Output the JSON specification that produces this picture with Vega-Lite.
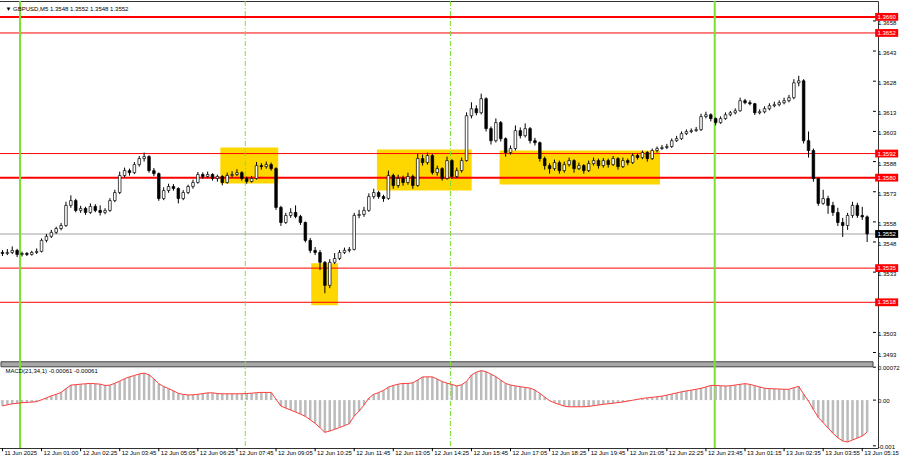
{
"$schema": "https://vega.github.io/schema/vega-lite/v6.json",
"width": 900,
"height": 460,
"autosize": {"type": "fit", "contains": "padding"},
"padding": {"left": -5, "top": 0, "right": 0, "bottom": 4},
"background": "#ffffff",
"config": {
  "font": "Liberation Sans",
  "view": {"stroke": "#333333", "strokeWidth": 1}
},
"resolve": {"scale": {"y": "independent"}},
"datasets": {
  "zones": [{"i0":89.2,"i1":112.9,"p0":1.3595,"p1":1.35771},{"i0":126.4,"i1":137.4,"p0":1.35374,"p1":1.35165},{"i0":153.3,"i1":192.1,"p0":1.3594,"p1":1.35736},{"i0":203.5,"i1":269.2,"p0":1.35935,"p1":1.35766}],
  "levels": [{"p":1.366,"kind":"strong"},{"p":1.3652,"kind":"weak"},{"p":1.3592,"kind":"weak"},{"p":1.358,"kind":"strong"},{"p":1.3535,"kind":"weak"},{"p":1.3518,"kind":"weak"}],
  "last": [{"p":1.3552}],
  "pticks": [{"p":1.3658},{"p":1.3643},{"p":1.3628},{"p":1.3613},{"p":1.3603},{"p":1.3588},{"p":1.3573},{"p":1.3558},{"p":1.3548},{"p":1.3533},{"p":1.3503},{"p":1.3493}],
  "mticks": [{"m":0.00072,"t":"0.00072"},{"m":0,"t":"0.00"},{"m":-0.001,"t":"-0.001"}],
  "xticks": [{"i":0,"t":"11 Jun 2025"},{"i":16,"t":"12 Jun 01:00"},{"i":32,"t":"12 Jun 02:25"},{"i":48,"t":"12 Jun 03:45"},{"i":64,"t":"12 Jun 05:05"},{"i":80,"t":"12 Jun 06:25"},{"i":96,"t":"12 Jun 07:45"},{"i":112,"t":"12 Jun 09:05"},{"i":128,"t":"12 Jun 10:25"},{"i":144,"t":"12 Jun 11:45"},{"i":160,"t":"12 Jun 13:05"},{"i":176,"t":"12 Jun 14:25"},{"i":192,"t":"12 Jun 15:45"},{"i":208,"t":"12 Jun 17:05"},{"i":224,"t":"12 Jun 18:25"},{"i":240,"t":"12 Jun 19:45"},{"i":256,"t":"12 Jun 21:05"},{"i":272,"t":"12 Jun 22:25"},{"i":288,"t":"12 Jun 23:45"},{"i":304,"t":"13 Jun 01:15"},{"i":320,"t":"13 Jun 02:35"},{"i":336,"t":"13 Jun 03:55"},{"i":352,"t":"13 Jun 05:15"}],
  "vlines": [{"i":7.2,"kind":"strong"},{"i":99.4,"kind":"weak"},{"i":183.4,"kind":"weak"},{"i":291.6,"kind":"strong"}],
  "bars": [
{"i":0,"o":1.35428,"h":1.3544,"l":1.3541,"c":1.35423,"m":-0.000127},
{"i":2,"o":1.35423,"h":1.35445,"l":1.35415,"c":1.35428,"m":-0.000103},
{"i":4,"o":1.35428,"h":1.35458,"l":1.3542,"c":1.35438,"m":-0.000079},
{"i":6,"o":1.35438,"h":1.35446,"l":1.35405,"c":1.35418,"m":-0.000072},
{"i":8,"o":1.35418,"h":1.35432,"l":1.35408,"c":1.35423,"m":-0.000057},
{"i":10,"o":1.35423,"h":1.3543,"l":1.3541,"c":1.35418,"m":-0.00005},
{"i":12,"o":1.35418,"h":1.35436,"l":1.35412,"c":1.35428,"m":-0.000044},
{"i":14,"o":1.35428,"h":1.35448,"l":1.3542,"c":1.35433,"m":-0.000033},
{"i":16,"o":1.35433,"h":1.35498,"l":1.35428,"c":1.35488,"m":0.000007},
{"i":18,"o":1.35488,"h":1.3552,"l":1.35478,"c":1.35508,"m":0.00005},
{"i":20,"o":1.35508,"h":1.3554,"l":1.355,"c":1.35528,"m":0.000092},
{"i":22,"o":1.35528,"h":1.35556,"l":1.3552,"c":1.35547,"m":0.000127},
{"i":24,"o":1.35547,"h":1.35575,"l":1.35538,"c":1.35562,"m":0.000166},
{"i":26,"o":1.35562,"h":1.3568,"l":1.35555,"c":1.35662,"m":0.000249},
{"i":28,"o":1.35662,"h":1.35712,"l":1.3565,"c":1.35686,"m":0.000328},
{"i":30,"o":1.35686,"h":1.35695,"l":1.35628,"c":1.35637,"m":0.000338},
{"i":32,"o":1.35637,"h":1.3566,"l":1.35625,"c":1.35647,"m":0.000349},
{"i":34,"o":1.35647,"h":1.35655,"l":1.35615,"c":1.35627,"m":0.000358},
{"i":36,"o":1.35627,"h":1.35672,"l":1.3562,"c":1.35657,"m":0.000365},
{"i":38,"o":1.35657,"h":1.35668,"l":1.35628,"c":1.35637,"m":0.000358},
{"i":40,"o":1.35637,"h":1.35662,"l":1.35612,"c":1.35627,"m":0.000349},
{"i":42,"o":1.35627,"h":1.35648,"l":1.35618,"c":1.35637,"m":0.000321},
{"i":44,"o":1.35637,"h":1.35698,"l":1.3563,"c":1.35686,"m":0.000328},
{"i":46,"o":1.35686,"h":1.3574,"l":1.35678,"c":1.35726,"m":0.000367},
{"i":48,"o":1.35726,"h":1.3583,"l":1.35718,"c":1.35811,"m":0.000415},
{"i":50,"o":1.35811,"h":1.3585,"l":1.358,"c":1.35835,"m":0.000469},
{"i":52,"o":1.35835,"h":1.35845,"l":1.3581,"c":1.35825,"m":0.000507},
{"i":54,"o":1.35825,"h":1.35878,"l":1.35818,"c":1.35865,"m":0.000539},
{"i":56,"o":1.35865,"h":1.35908,"l":1.35855,"c":1.35895,"m":0.000572},
{"i":58,"o":1.35895,"h":1.35925,"l":1.3588,"c":1.35905,"m":0.00059},
{"i":60,"o":1.35905,"h":1.35912,"l":1.35825,"c":1.35835,"m":0.000555},
{"i":62,"o":1.35835,"h":1.35848,"l":1.35808,"c":1.3582,"m":0.000465},
{"i":64,"o":1.3582,"h":1.35826,"l":1.35685,"c":1.35696,"m":0.000358},
{"i":66,"o":1.35696,"h":1.35752,"l":1.35688,"c":1.35736,"m":0.000297},
{"i":68,"o":1.35736,"h":1.3577,"l":1.35725,"c":1.35756,"m":0.000253},
{"i":70,"o":1.35756,"h":1.35768,"l":1.35735,"c":1.35746,"m":0.000203},
{"i":72,"o":1.35746,"h":1.35752,"l":1.35672,"c":1.35696,"m":0.000148},
{"i":74,"o":1.35696,"h":1.35738,"l":1.35688,"c":1.35726,"m":0.000124},
{"i":76,"o":1.35726,"h":1.35765,"l":1.35718,"c":1.35756,"m":0.000114},
{"i":78,"o":1.35756,"h":1.3579,"l":1.35745,"c":1.35776,"m":0.000116},
{"i":80,"o":1.35776,"h":1.35828,"l":1.3577,"c":1.35816,"m":0.000127},
{"i":82,"o":1.35816,"h":1.35826,"l":1.35795,"c":1.35806,"m":0.000142},
{"i":84,"o":1.35806,"h":1.3583,"l":1.35798,"c":1.35816,"m":0.000159},
{"i":86,"o":1.35816,"h":1.35822,"l":1.35785,"c":1.35796,"m":0.000159},
{"i":88,"o":1.35796,"h":1.35815,"l":1.3578,"c":1.35806,"m":0.000144},
{"i":90,"o":1.35806,"h":1.35812,"l":1.35762,"c":1.35776,"m":0.000138},
{"i":92,"o":1.35776,"h":1.35825,"l":1.3577,"c":1.35811,"m":0.000138},
{"i":94,"o":1.35811,"h":1.35832,"l":1.358,"c":1.35816,"m":0.000138},
{"i":96,"o":1.35816,"h":1.35842,"l":1.35808,"c":1.35825,"m":0.000138},
{"i":98,"o":1.35825,"h":1.35832,"l":1.35785,"c":1.35796,"m":0.00014},
{"i":100,"o":1.35796,"h":1.35805,"l":1.3577,"c":1.35781,"m":0.000144},
{"i":102,"o":1.35781,"h":1.35808,"l":1.35775,"c":1.35796,"m":0.000151},
{"i":104,"o":1.35796,"h":1.35878,"l":1.3579,"c":1.3586,"m":0.000162},
{"i":106,"o":1.3586,"h":1.35872,"l":1.3584,"c":1.35855,"m":0.000168},
{"i":108,"o":1.35855,"h":1.3588,"l":1.35845,"c":1.35865,"m":0.000168},
{"i":110,"o":1.35865,"h":1.35875,"l":1.35835,"c":1.35845,"m":0.000168},
{"i":112,"o":1.35845,"h":1.35852,"l":1.3564,"c":1.35652,"m":0.000022},
{"i":114,"o":1.35652,"h":1.3566,"l":1.3556,"c":1.35577,"m":-0.000131},
{"i":116,"o":1.35577,"h":1.35625,"l":1.3557,"c":1.35612,"m":-0.000175},
{"i":118,"o":1.35612,"h":1.35648,"l":1.356,"c":1.35627,"m":-0.000218},
{"i":120,"o":1.35627,"h":1.35662,"l":1.35598,"c":1.35607,"m":-0.000262},
{"i":122,"o":1.35607,"h":1.35615,"l":1.35565,"c":1.35577,"m":-0.000306},
{"i":124,"o":1.35577,"h":1.35582,"l":1.35478,"c":1.35488,"m":-0.000356},
{"i":126,"o":1.35488,"h":1.355,"l":1.35425,"c":1.35438,"m":-0.00043},
{"i":128,"o":1.35438,"h":1.35455,"l":1.35415,"c":1.35428,"m":-0.000509},
{"i":130,"o":1.35428,"h":1.3544,"l":1.3534,"c":1.35379,"m":-0.000603},
{"i":132,"o":1.35379,"h":1.35385,"l":1.35225,"c":1.35264,"m":-0.000705},
{"i":134,"o":1.35264,"h":1.35395,"l":1.3525,"c":1.35379,"m":-0.000677},
{"i":136,"o":1.35379,"h":1.35425,"l":1.3537,"c":1.35398,"m":-0.00064},
{"i":138,"o":1.35398,"h":1.3544,"l":1.3539,"c":1.35428,"m":-0.0006},
{"i":140,"o":1.35428,"h":1.35452,"l":1.3542,"c":1.35438,"m":-0.000559},
{"i":142,"o":1.35438,"h":1.35455,"l":1.35428,"c":1.35443,"m":-0.000515},
{"i":144,"o":1.35443,"h":1.35625,"l":1.35438,"c":1.35612,"m":-0.000349},
{"i":146,"o":1.35612,"h":1.3564,"l":1.35598,"c":1.35617,"m":-0.00024},
{"i":148,"o":1.35617,"h":1.35655,"l":1.35605,"c":1.35637,"m":-0.000109},
{"i":150,"o":1.35637,"h":1.35722,"l":1.3563,"c":1.35706,"m":0.000044},
{"i":152,"o":1.35706,"h":1.35745,"l":1.35695,"c":1.35726,"m":0.000127},
{"i":154,"o":1.35726,"h":1.35735,"l":1.35695,"c":1.35706,"m":0.000164},
{"i":156,"o":1.35706,"h":1.35715,"l":1.3568,"c":1.35696,"m":0.000214},
{"i":158,"o":1.35696,"h":1.35835,"l":1.3569,"c":1.35811,"m":0.000284},
{"i":160,"o":1.35811,"h":1.3582,"l":1.35745,"c":1.35761,"m":0.000321},
{"i":162,"o":1.35761,"h":1.35815,"l":1.3575,"c":1.35796,"m":0.000349},
{"i":164,"o":1.35796,"h":1.3581,"l":1.3576,"c":1.35776,"m":0.000365},
{"i":166,"o":1.35776,"h":1.35825,"l":1.35765,"c":1.35806,"m":0.000365},
{"i":168,"o":1.35806,"h":1.35815,"l":1.35745,"c":1.35761,"m":0.000378},
{"i":170,"o":1.35761,"h":1.3592,"l":1.35755,"c":1.35895,"m":0.000441},
{"i":172,"o":1.35895,"h":1.35915,"l":1.3586,"c":1.35875,"m":0.000507},
{"i":174,"o":1.35875,"h":1.35925,"l":1.35865,"c":1.3591,"m":0.000509},
{"i":176,"o":1.3591,"h":1.35918,"l":1.35815,"c":1.35825,"m":0.000509},
{"i":178,"o":1.35825,"h":1.3586,"l":1.3581,"c":1.35845,"m":0.000459},
{"i":180,"o":1.35845,"h":1.35852,"l":1.35785,"c":1.35796,"m":0.000406},
{"i":182,"o":1.35796,"h":1.35905,"l":1.3579,"c":1.35885,"m":0.000371},
{"i":184,"o":1.35885,"h":1.35892,"l":1.35795,"c":1.35806,"m":0.000343},
{"i":186,"o":1.35806,"h":1.3585,"l":1.35798,"c":1.35835,"m":0.00031},
{"i":188,"o":1.35835,"h":1.359,"l":1.35825,"c":1.35885,"m":0.000336},
{"i":190,"o":1.35885,"h":1.36125,"l":1.3588,"c":1.36108,"m":0.000408},
{"i":192,"o":1.36108,"h":1.36175,"l":1.36095,"c":1.36143,"m":0.00055},
{"i":194,"o":1.36143,"h":1.3616,"l":1.3611,"c":1.36123,"m":0.000611},
{"i":196,"o":1.36123,"h":1.36218,"l":1.36115,"c":1.36193,"m":0.000646},
{"i":198,"o":1.36193,"h":1.362,"l":1.3603,"c":1.36044,"m":0.00062},
{"i":200,"o":1.36044,"h":1.36055,"l":1.35965,"c":1.35984,"m":0.00057},
{"i":202,"o":1.35984,"h":1.36095,"l":1.35975,"c":1.36074,"m":0.000511},
{"i":204,"o":1.36074,"h":1.36082,"l":1.3598,"c":1.35994,"m":0.000437},
{"i":206,"o":1.35994,"h":1.36,"l":1.35905,"c":1.35925,"m":0.000365},
{"i":208,"o":1.35925,"h":1.3596,"l":1.35915,"c":1.35945,"m":0.00033},
{"i":210,"o":1.35945,"h":1.3606,"l":1.35935,"c":1.36034,"m":0.00031},
{"i":212,"o":1.36034,"h":1.3605,"l":1.35995,"c":1.36009,"m":0.000293},
{"i":214,"o":1.36009,"h":1.3607,"l":1.36,"c":1.36044,"m":0.000277},
{"i":216,"o":1.36044,"h":1.36052,"l":1.3597,"c":1.35984,"m":0.000262},
{"i":218,"o":1.35984,"h":1.35998,"l":1.3596,"c":1.35974,"m":0.000221},
{"i":220,"o":1.35974,"h":1.3598,"l":1.3588,"c":1.35895,"m":0.000146},
{"i":222,"o":1.35895,"h":1.35905,"l":1.3584,"c":1.3586,"m":0.000068},
{"i":224,"o":1.3586,"h":1.35872,"l":1.3582,"c":1.35845,"m":-0.000013},
{"i":226,"o":1.35845,"h":1.3589,"l":1.35835,"c":1.35875,"m":-0.000061},
{"i":228,"o":1.35875,"h":1.35885,"l":1.3582,"c":1.35835,"m":-0.000096},
{"i":230,"o":1.35835,"h":1.3588,"l":1.35825,"c":1.35865,"m":-0.000131},
{"i":232,"o":1.35865,"h":1.359,"l":1.35855,"c":1.35885,"m":-0.000146},
{"i":234,"o":1.35885,"h":1.35892,"l":1.35825,"c":1.35845,"m":-0.000146},
{"i":236,"o":1.35845,"h":1.35875,"l":1.35838,"c":1.3586,"m":-0.000146},
{"i":238,"o":1.3586,"h":1.35868,"l":1.3582,"c":1.35835,"m":-0.000146},
{"i":240,"o":1.35835,"h":1.35885,"l":1.35828,"c":1.3587,"m":-0.000138},
{"i":242,"o":1.3587,"h":1.359,"l":1.3586,"c":1.35885,"m":-0.000122},
{"i":244,"o":1.35885,"h":1.35895,"l":1.35845,"c":1.3586,"m":-0.000107},
{"i":246,"o":1.3586,"h":1.35898,"l":1.3585,"c":1.35885,"m":-0.000092},
{"i":248,"o":1.35885,"h":1.35895,"l":1.3585,"c":1.35865,"m":-0.000079},
{"i":250,"o":1.35865,"h":1.35908,"l":1.35858,"c":1.35895,"m":-0.000068},
{"i":252,"o":1.35895,"h":1.35902,"l":1.3584,"c":1.35855,"m":-0.000055},
{"i":254,"o":1.35855,"h":1.359,"l":1.35848,"c":1.35885,"m":-0.000041},
{"i":256,"o":1.35885,"h":1.35895,"l":1.35862,"c":1.35875,"m":-0.000022},
{"i":258,"o":1.35875,"h":1.35922,"l":1.35868,"c":1.3591,"m":-0.000002},
{"i":260,"o":1.3591,"h":1.3592,"l":1.3589,"c":1.359,"m":0.000017},
{"i":262,"o":1.359,"h":1.35935,"l":1.35892,"c":1.35925,"m":0.000037},
{"i":264,"o":1.35925,"h":1.35932,"l":1.3588,"c":1.35895,"m":0.00005},
{"i":266,"o":1.35895,"h":1.35945,"l":1.35888,"c":1.35935,"m":0.000061},
{"i":268,"o":1.35935,"h":1.35955,"l":1.35925,"c":1.35945,"m":0.000074},
{"i":270,"o":1.35945,"h":1.35962,"l":1.35938,"c":1.3595,"m":0.000087},
{"i":272,"o":1.3595,"h":1.35968,"l":1.35942,"c":1.35955,"m":0.000109},
{"i":274,"o":1.35955,"h":1.35995,"l":1.35948,"c":1.35984,"m":0.000133},
{"i":276,"o":1.35984,"h":1.36008,"l":1.35978,"c":1.35994,"m":0.000157},
{"i":278,"o":1.35994,"h":1.3603,"l":1.35988,"c":1.36019,"m":0.000181},
{"i":280,"o":1.36019,"h":1.3604,"l":1.36012,"c":1.36029,"m":0.000201},
{"i":282,"o":1.36029,"h":1.36045,"l":1.36022,"c":1.36034,"m":0.000218},
{"i":284,"o":1.36034,"h":1.36052,"l":1.36028,"c":1.36039,"m":0.000238},
{"i":286,"o":1.36039,"h":1.36118,"l":1.36032,"c":1.36104,"m":0.000258},
{"i":288,"o":1.36104,"h":1.36128,"l":1.36095,"c":1.36113,"m":0.000288},
{"i":290,"o":1.36113,"h":1.3612,"l":1.3608,"c":1.36094,"m":0.000321},
{"i":292,"o":1.36094,"h":1.361,"l":1.3606,"c":1.36074,"m":0.000321},
{"i":294,"o":1.36074,"h":1.36105,"l":1.36068,"c":1.36094,"m":0.000314},
{"i":296,"o":1.36094,"h":1.36125,"l":1.36088,"c":1.36113,"m":0.000308},
{"i":298,"o":1.36113,"h":1.36132,"l":1.36105,"c":1.36123,"m":0.000314},
{"i":300,"o":1.36123,"h":1.36145,"l":1.36115,"c":1.36133,"m":0.00033},
{"i":302,"o":1.36133,"h":1.36198,"l":1.36128,"c":1.36183,"m":0.000345},
{"i":304,"o":1.36183,"h":1.36192,"l":1.36165,"c":1.36173,"m":0.00036},
{"i":306,"o":1.36173,"h":1.36185,"l":1.3616,"c":1.36168,"m":0.000345},
{"i":308,"o":1.36168,"h":1.36172,"l":1.36112,"c":1.36123,"m":0.000317},
{"i":310,"o":1.36123,"h":1.3614,"l":1.36115,"c":1.36128,"m":0.000288},
{"i":312,"o":1.36128,"h":1.36155,"l":1.3612,"c":1.36143,"m":0.00026},
{"i":314,"o":1.36143,"h":1.3617,"l":1.36135,"c":1.36158,"m":0.000251},
{"i":316,"o":1.36158,"h":1.36178,"l":1.3615,"c":1.36163,"m":0.000247},
{"i":318,"o":1.36163,"h":1.36185,"l":1.36155,"c":1.36173,"m":0.000242},
{"i":320,"o":1.36173,"h":1.36198,"l":1.36165,"c":1.36183,"m":0.000238},
{"i":322,"o":1.36183,"h":1.36212,"l":1.36175,"c":1.36198,"m":0.000236},
{"i":324,"o":1.36198,"h":1.3629,"l":1.3619,"c":1.36272,"m":0.000271},
{"i":326,"o":1.36272,"h":1.36307,"l":1.36255,"c":1.36282,"m":0.000301},
{"i":328,"o":1.36282,"h":1.3629,"l":1.3597,"c":1.35984,"m":0.000131},
{"i":330,"o":1.35984,"h":1.3603,"l":1.359,"c":1.35935,"m":-0.000022},
{"i":332,"o":1.35935,"h":1.35945,"l":1.3578,"c":1.35796,"m":-0.000207},
{"i":334,"o":1.35796,"h":1.358,"l":1.3566,"c":1.35672,"m":-0.000378},
{"i":336,"o":1.35672,"h":1.3574,"l":1.35665,"c":1.35696,"m":-0.000493},
{"i":338,"o":1.35696,"h":1.3571,"l":1.3562,"c":1.35662,"m":-0.000609},
{"i":340,"o":1.35662,"h":1.3568,"l":1.3561,"c":1.35627,"m":-0.000725},
{"i":342,"o":1.35627,"h":1.3565,"l":1.3556,"c":1.35577,"m":-0.000823},
{"i":344,"o":1.35577,"h":1.356,"l":1.35505,"c":1.35562,"m":-0.000895},
{"i":346,"o":1.35562,"h":1.35625,"l":1.3554,"c":1.35612,"m":-0.000917},
{"i":348,"o":1.35612,"h":1.3568,"l":1.356,"c":1.35662,"m":-0.000873},
{"i":350,"o":1.35662,"h":1.35675,"l":1.356,"c":1.35612,"m":-0.00083},
{"i":352,"o":1.35612,"h":1.35655,"l":1.3559,"c":1.35605,"m":-0.000786},
{"i":354,"o":1.35605,"h":1.35612,"l":1.3548,"c":1.3552,"m":-0.0007}
  ]
},
"layer": [
  {"data": {"name": "zones"}, "mark": {"type": "rect", "color": "#ffd700"},
   "encoding": {
     "x": {"field": "i0", "type": "quantitative", "scale": {"domain": [-0.6, 356.4], "nice": false, "zero": false}, "axis": null},
     "x2": {"field": "i1"},
     "y": {"field": "p0", "type": "quantitative", "scale": {"domain": [1.34455, 1.36679], "nice": false, "zero": false}, "axis": null},
     "y2": {"field": "p1"}
   }},
  {"data": {"values": [{}]}, "mark": {"type": "rect", "color": "#a8a8a8", "stroke": "#444444", "strokeWidth": 1},
   "encoding": {
     "x": {"datum": -0.6, "type": "quantitative", "scale": {"domain": [-0.6, 356.4], "nice": false, "zero": false}, "axis": null},
     "x2": {"datum": 356.4},
     "y": {"datum": 1.34884, "type": "quantitative", "scale": {"domain": [1.34455, 1.36679], "nice": false, "zero": false}, "axis": null},
     "y2": {"datum": 1.34859}
   }},
  {"data": {"name": "last"}, "mark": {"type": "rule", "color": "#d0d0d0", "strokeWidth": 2},
   "encoding": {"y": {"field": "p", "type": "quantitative", "scale": {"domain": [1.34455, 1.36679], "nice": false, "zero": false}, "axis": null}}},
  {"data": {"name": "levels"}, "mark": {"type": "rule", "color": "#ff0000"},
   "encoding": {
     "y": {"field": "p", "type": "quantitative", "scale": {"domain": [1.34455, 1.36679], "nice": false, "zero": false}, "axis": null},
     "strokeWidth": {"field": "kind", "type": "ordinal", "scale": {"domain": ["strong", "weak"], "range": [2, 1]}, "legend": null}
   }},
  {"data": {"name": "vlines"}, "mark": {"type": "rule", "color": "#7ce030"},
   "encoding": {
     "x": {"field": "i", "type": "quantitative", "scale": {"domain": [-0.6, 356.4], "nice": false, "zero": false}, "axis": null},
     "strokeWidth": {"field": "kind", "type": "ordinal", "scale": {"domain": ["strong", "weak"], "range": [2, 1]}, "legend": null},
     "strokeDash": {"field": "kind", "type": "nominal", "scale": {"domain": ["strong", "weak"], "range": [[1, 0], [5, 2, 1, 2]]}, "legend": null}
   }},
  {"data": {"name": "bars"}, "mark": {"type": "bar", "width": 2.5, "color": "#bbbbbb"},
   "encoding": {
     "x": {"field": "i", "type": "quantitative", "scale": {"domain": [-0.6, 356.4], "nice": false, "zero": false}, "axis": null},
     "y": {"field": "m", "type": "quantitative", "scale": {"domain": [-0.001048, 0.008734], "nice": false, "zero": false}, "axis": null},
     "y2": {"datum": 0}
   }},
  {"data": {"name": "bars"}, "mark": {"type": "line", "color": "#ff3b3b", "strokeWidth": 1},
   "encoding": {
     "x": {"field": "i", "type": "quantitative", "scale": {"domain": [-0.6, 356.4], "nice": false, "zero": false}, "axis": null},
     "y": {"field": "m", "type": "quantitative", "scale": {"domain": [-0.001048, 0.008734], "nice": false, "zero": false}, "axis": null}
   }},
  {"data": {"name": "bars"}, "mark": {"type": "rule", "color": "#000000", "strokeWidth": 1},
   "encoding": {
     "x": {"field": "i", "type": "quantitative", "scale": {"domain": [-0.6, 356.4], "nice": false, "zero": false}, "axis": null},
     "y": {"field": "l", "type": "quantitative", "scale": {"domain": [1.34455, 1.36679], "nice": false, "zero": false}, "axis": null},
     "y2": {"field": "h"}
   }},
  {"data": {"name": "bars"}, "mark": {"type": "bar", "width": 2.6, "stroke": "#000000", "strokeWidth": 0.7},
   "encoding": {
     "x": {"field": "i", "type": "quantitative", "scale": {"domain": [-0.6, 356.4], "nice": false, "zero": false}, "axis": null},
     "y": {"field": "o", "type": "quantitative", "scale": {"domain": [1.34455, 1.36679], "nice": false, "zero": false}, "axis": null},
     "y2": {"field": "c"},
     "fill": {"condition": {"test": "datum.c >= datum.o", "value": "#ffffff"}, "value": "#000000"}
   }},
  {"data": {"name": "pticks"}, "mark": {"type": "rule", "color": "#000000", "strokeWidth": 1},
   "encoding": {
     "x": {"datum": 356.4, "type": "quantitative", "scale": {"domain": [-0.6, 356.4], "nice": false, "zero": false}, "axis": null},
     "x2": {"datum": 357.6},
     "y": {"field": "p", "type": "quantitative", "scale": {"domain": [1.34455, 1.36679], "nice": false, "zero": false}, "axis": null}
   }},
  {"data": {"name": "pticks"}, "mark": {"type": "text", "color": "#000000", "fontSize": 6, "align": "left", "baseline": "middle", "dx": 5, "dy": 2},
   "encoding": {
     "x": {"datum": 356.4, "type": "quantitative", "scale": {"domain": [-0.6, 356.4], "nice": false, "zero": false}, "axis": null},
     "y": {"field": "p", "type": "quantitative", "scale": {"domain": [1.34455, 1.36679], "nice": false, "zero": false}, "axis": null},
     "text": {"field": "p", "type": "quantitative", "format": ".4f"}
   }},
  {"data": {"name": "levels"}, "mark": {"type": "point", "shape": "M-1,-0.34L1,-0.34L1,0.34L-1,0.34Z", "filled": true, "color": "#ff0000", "size": 529, "opacity": 1, "strokeWidth": 0},
   "encoding": {
     "x": {"datum": 362, "type": "quantitative", "scale": {"domain": [-0.6, 356.4], "nice": false, "zero": false}, "axis": null},
     "y": {"field": "p", "type": "quantitative", "scale": {"domain": [1.34455, 1.36679], "nice": false, "zero": false}, "axis": null}
   }},
  {"data": {"name": "levels"}, "mark": {"type": "text", "color": "#ffffff", "fontSize": 6, "align": "center", "baseline": "middle"},
   "encoding": {
     "x": {"datum": 362, "type": "quantitative", "scale": {"domain": [-0.6, 356.4], "nice": false, "zero": false}, "axis": null},
     "y": {"field": "p", "type": "quantitative", "scale": {"domain": [1.34455, 1.36679], "nice": false, "zero": false}, "axis": null},
     "text": {"field": "p", "type": "quantitative", "format": ".4f"}
   }},
  {"data": {"name": "last"}, "mark": {"type": "point", "shape": "M-1,-0.34L1,-0.34L1,0.34L-1,0.34Z", "filled": true, "color": "#000000", "size": 529, "opacity": 1, "strokeWidth": 0},
   "encoding": {
     "x": {"datum": 362, "type": "quantitative", "scale": {"domain": [-0.6, 356.4], "nice": false, "zero": false}, "axis": null},
     "y": {"field": "p", "type": "quantitative", "scale": {"domain": [1.34455, 1.36679], "nice": false, "zero": false}, "axis": null}
   }},
  {"data": {"name": "last"}, "mark": {"type": "text", "color": "#ffffff", "fontSize": 6, "align": "center", "baseline": "middle"},
   "encoding": {
     "x": {"datum": 362, "type": "quantitative", "scale": {"domain": [-0.6, 356.4], "nice": false, "zero": false}, "axis": null},
     "y": {"field": "p", "type": "quantitative", "scale": {"domain": [1.34455, 1.36679], "nice": false, "zero": false}, "axis": null},
     "text": {"field": "p", "type": "quantitative", "format": ".4f"}
   }},
  {"data": {"values": [{"t": "▼  GBPUSD,M5  1.3548 1.3552 1.3548 1.3552"}]}, "mark": {"type": "text", "color": "#000000", "fontSize": 6, "align": "left", "baseline": "middle"},
   "encoding": {
     "x": {"datum": 1.2, "type": "quantitative", "scale": {"domain": [-0.6, 356.4], "nice": false, "zero": false}, "axis": null},
     "y": {"datum": 1.36639, "type": "quantitative", "scale": {"domain": [1.34455, 1.36679], "nice": false, "zero": false}, "axis": null},
     "text": {"field": "t", "type": "nominal"}
   }},
  {"data": {"name": "mticks"}, "mark": {"type": "rule", "color": "#000000", "strokeWidth": 1},
   "encoding": {
     "x": {"datum": 356.4, "type": "quantitative", "scale": {"domain": [-0.6, 356.4], "nice": false, "zero": false}, "axis": null},
     "x2": {"datum": 357.6},
     "y": {"field": "m", "type": "quantitative", "scale": {"domain": [-0.001048, 0.008734], "nice": false, "zero": false}, "axis": null}
   }},
  {"data": {"name": "mticks"}, "mark": {"type": "text", "color": "#000000", "fontSize": 6, "align": "left", "baseline": "middle", "dx": 5, "dy": 1},
   "encoding": {
     "x": {"datum": 356.4, "type": "quantitative", "scale": {"domain": [-0.6, 356.4], "nice": false, "zero": false}, "axis": null},
     "y": {"field": "m", "type": "quantitative", "scale": {"domain": [-0.001048, 0.008734], "nice": false, "zero": false}, "axis": null},
     "text": {"field": "t", "type": "nominal"}
   }},
  {"data": {"name": "xticks"}, "mark": {"type": "rule", "color": "#000000", "strokeWidth": 1},
   "encoding": {
     "x": {"field": "i", "type": "quantitative", "scale": {"domain": [-0.6, 356.4], "nice": false, "zero": false}, "axis": null},
     "y": {"datum": -0.001048, "type": "quantitative", "scale": {"domain": [-0.001048, 0.008734], "nice": false, "zero": false}, "axis": null},
     "y2": {"datum": -0.00112}
   }},
  {"data": {"name": "xticks"}, "mark": {"type": "text", "color": "#000000", "fontSize": 6, "align": "left", "baseline": "top", "dx": 2, "dy": 2},
   "encoding": {
     "x": {"field": "i", "type": "quantitative", "scale": {"domain": [-0.6, 356.4], "nice": false, "zero": false}, "axis": null},
     "y": {"datum": -0.001048, "type": "quantitative", "scale": {"domain": [-0.001048, 0.008734], "nice": false, "zero": false}, "axis": null},
     "text": {"field": "t", "type": "nominal"}
   }},
  {"data": {"values": [{"t": "MACD(21,34,1) -0.00061 -0.00061"}]}, "mark": {"type": "text", "color": "#000000", "fontSize": 6, "align": "left", "baseline": "middle"},
   "encoding": {
     "x": {"datum": 1.2, "type": "quantitative", "scale": {"domain": [-0.6, 356.4], "nice": false, "zero": false}, "axis": null},
     "y": {"datum": 0.00063, "type": "quantitative", "scale": {"domain": [-0.001048, 0.008734], "nice": false, "zero": false}, "axis": null},
     "text": {"field": "t", "type": "nominal"}
   }}
]
}
